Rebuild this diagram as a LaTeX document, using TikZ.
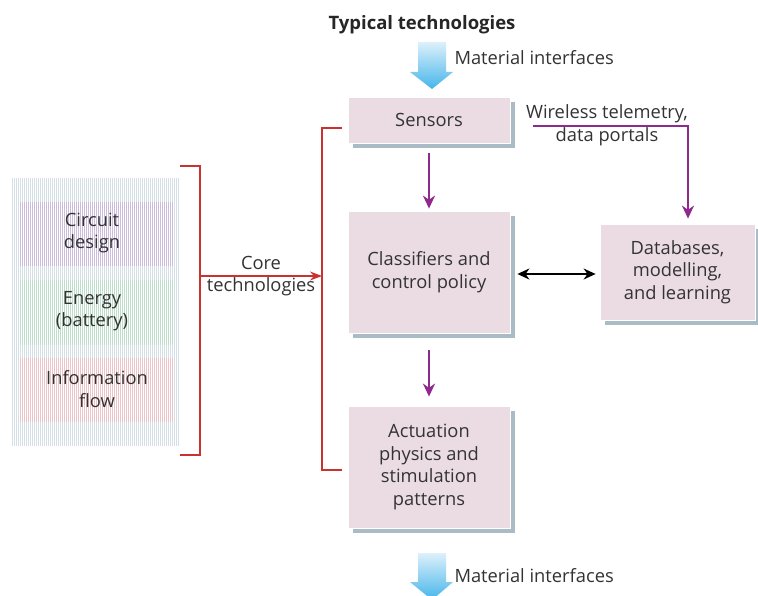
\documentclass[tikz,border=0pt]{standalone}
\usepackage{fontspec}
\setmainfont{Open Sans}
\usetikzlibrary{arrows.meta,shadows}
\definecolor{txt}{HTML}{333333}
\definecolor{boxfill}{HTML}{EADCE2}
\definecolor{shadowc}{HTML}{A9BCC6}
\definecolor{purp}{HTML}{8E2A8E}
\definecolor{redc}{HTML}{C83330}
\definecolor{stripeo}{HTML}{D5E0E6}
\definecolor{stripep}{HTML}{CDBDDD}
\definecolor{stripeg}{HTML}{BEDDCB}
\definecolor{striper}{HTML}{ECC3C7}
\definecolor{blueT}{HTML}{DDF0FB}
\definecolor{blueB}{HTML}{45B5EA}
\tikzset{
  every node/.style={text=txt, font=\fontsize{18.3}{22.5}\selectfont},
  blockbox/.style={fill=boxfill, draw=white, line width=0.8pt, align=center,
    inner sep=0pt,
    drop shadow={shadow xshift=5pt, shadow yshift=-5pt, fill=shadowc, opacity=1}},
  parr/.style={draw=purp, line width=2.2pt, -{Stealth[length=13pt,width=12pt]}},
  rline/.style={draw=redc, line width=1.4pt},
  stripe/.style={line width=1.1pt},
  bluearrow/.style={top color=blueT, bottom color=blueB, draw=none},
}
\begin{document}
\begin{tikzpicture}[x=1pt,y=-1pt]
\useasboundingbox (0,0) rectangle (758,596);
\fill[white] (0,0) rectangle (758,596);

% title
\node[font=\fontsize{18.5}{22}\selectfont\bfseries, text=black!85] (title) at (422,25) {Typical technologies};

% blue arrows
\begin{scope}
\clip (0,0) rectangle (758,596);
\path[bluearrow] (418,42) -- (446,42) -- (446,72) -- (453,72) -- (432,89) -- (410,72) -- (418,72) -- cycle;
\path[bluearrow] (418,553) -- (446,553) -- (446,582) -- (453,582) -- (432,600) -- (410,582) -- (418,582) -- cycle;
\end{scope}
\node[anchor=west] (mi1) at (451,58) {Material interfaces};
\node[anchor=west] (mi2) at (451,576) {Material interfaces};

% boxes
\node[blockbox, minimum width=162pt, minimum height=46pt] (sens) at (429,120) {Sensors};
\node[blockbox, minimum width=162pt, minimum height=122pt] (cls) at (429,272) {Classifiers and\\control policy};
\node[blockbox, minimum width=155pt, minimum height=96pt] (dbs) at (677.5,272) {Databases,\\modelling,\\and learning};
\node[blockbox, minimum width=162pt, minimum height=122pt] (act) at (429,467) {Actuation\\physics and\\stimulation\\patterns};

% wireless
\node[align=center] (wl) at (607,125) {Wireless telemetry,\\data portals};
\coordinate (w1) at (533,126);
\draw[parr, shorten >=5pt] (w1) -| ([xshift=10.5pt]dbs.north);

% purple arrows
\draw[parr, shorten <=10pt, shorten >=2pt] (sens) -- (cls);
\draw[parr, shorten <=17pt, shorten >=9pt] (cls) -- (act);

% double arrow
\draw[line width=1.7pt, black, {Stealth[length=12pt,width=11pt]}-{Stealth[length=12pt,width=11pt]}, shorten <=7pt, shorten >=4pt]
  ([yshift=-2pt]cls.east) -- ([yshift=-2pt]dbs.west);

% left panel
\fill[white] (12,178) rectangle (180,446);
\foreach \x in {12.5,14.5,...,179.5} \draw[stripe, stripeo] (\x,178) -- (\x,446);
\foreach \ya/\yb/\c in {202/266/stripep, 280/345/stripeg, 358/422/striper}{
  \fill[white] (20,\ya) rectangle (173,\yb);
  \foreach \x in {20.5,22.5,...,172.5} \draw[stripe, \c] (\x,\ya) -- (\x,\yb);
}
\node[align=center] (cd) at (92,233) {Circuit\\design};
\node[align=center] (en) at (92,311) {Energy\\(battery)};
\node[align=center] (inf) at (97,389) {Information\\flow};

% red brackets
\coordinate (lb1) at (180,166);
\coordinate (lb2) at (200,166);
\coordinate (lb3) at (200,455);
\coordinate (lb4) at (180,455);
\draw[rline] (lb1) -- (lb2) -- (lb3) -- (lb4);
\coordinate (rb1) at (342,128);
\coordinate (rb2) at (322,128);
\coordinate (rb3) at (322,470);
\coordinate (rb4) at (342,470);
\draw[rline] (rb1) -- (rb2) -- (rb3) -- (rb4);
\coordinate (ra1) at (200,276);
\coordinate (ra2) at (322,276);
\draw[rline, -{Stealth[length=12pt,width=9pt]}] (ra1) -- (ra2);
\node[align=center] (core) at (261,276) {Core\\technologies};
\end{tikzpicture}
\end{document}
